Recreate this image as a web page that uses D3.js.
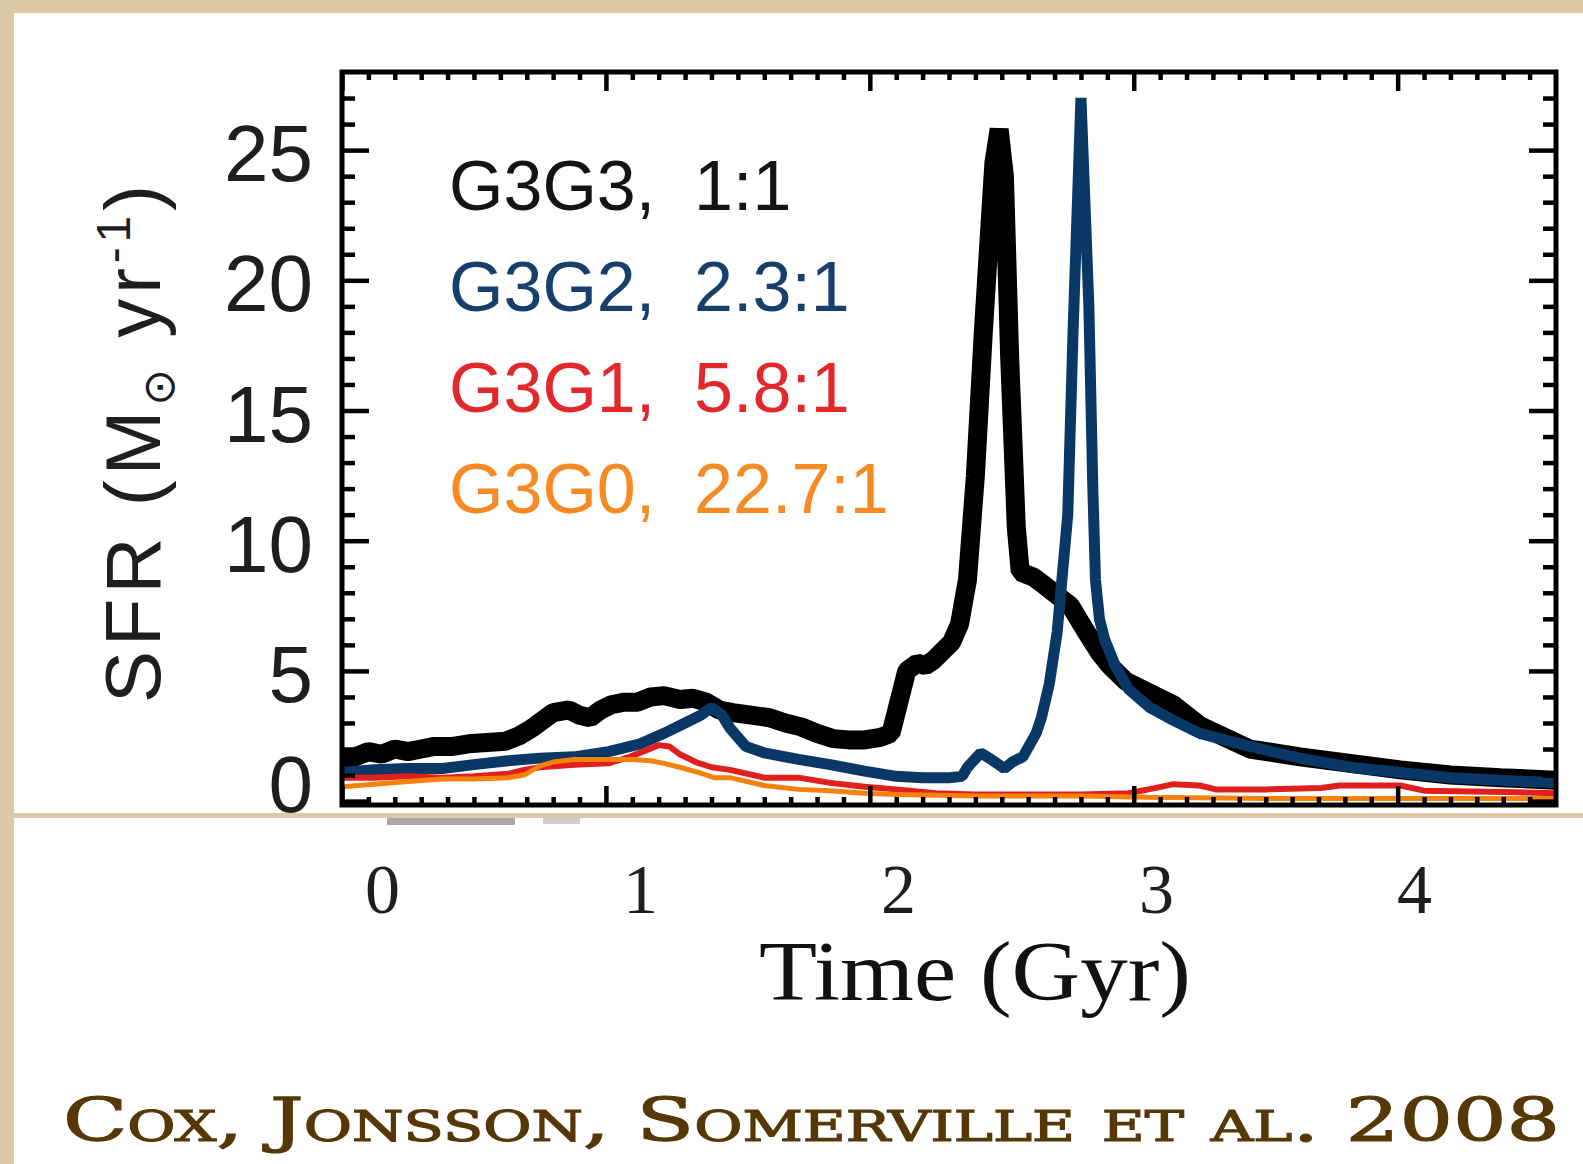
<!DOCTYPE html>
<html>
<head>
<meta charset="utf-8">
<script src="https://cdn.jsdelivr.net/npm/d3@7"></script>
<style>
  body { margin: 0; background: #dccaa6; }
  svg { display: block; }
</style>
</head>
<body>
<div id="my_dataviz"></div>
<script>
// SFR curves, [time in Gyr, SFR in Msun/yr]
var g3g3 = [[0.00,1.5],[0.05,1.7],[0.10,1.9],[0.15,1.8],[0.20,2.0],[0.25,1.9],[0.30,2.0],[0.35,2.1],
  [0.42,2.1],[0.48,2.2],[0.55,2.25],[0.62,2.3],[0.67,2.5],[0.72,2.8],[0.76,3.1],[0.80,3.4],[0.86,3.5],
  [0.90,3.3],[0.94,3.2],[0.98,3.5],[1.02,3.7],[1.07,3.8],[1.12,3.8],[1.17,4.0],[1.22,4.05],[1.28,3.9],
  [1.33,3.95],[1.38,3.8],[1.43,3.5],[1.48,3.4],[1.55,3.3],[1.62,3.2],[1.68,3.0],[1.74,2.85],[1.80,2.6],
  [1.86,2.4],[1.92,2.35],[1.98,2.35],[2.04,2.45],[2.08,2.6],[2.11,3.8],[2.14,5.0],[2.18,5.3],[2.21,5.2],
  [2.24,5.4],[2.28,5.8],[2.31,6.1],[2.34,6.8],[2.37,8.5],[2.40,12.5],[2.43,18],[2.47,24.5],[2.49,25.8],
  [2.51,24],[2.53,17],[2.555,10.5],[2.57,8.8],[2.62,8.6],[2.66,8.3],[2.71,7.9],[2.76,7.5],[2.82,6.5],
  [2.87,5.7],[2.91,5.2],[2.97,4.6],[3.05,4.2],[3.15,3.7],[3.25,2.9],[3.44,2.0],[3.63,1.7],[3.82,1.45],
  [4.01,1.2],[4.20,1.0],[4.39,0.9],[4.60,0.8]];

var g3g2 = [[0.00,1.1],[0.12,1.2],[0.25,1.25],[0.38,1.25],[0.50,1.4],[0.63,1.55],[0.75,1.65],[0.88,1.7],
  [1.01,1.9],[1.13,2.2],[1.22,2.6],[1.30,3.0],[1.36,3.3],[1.40,3.6],[1.44,3.3],[1.47,2.8],[1.53,2.1],
  [1.60,1.85],[1.73,1.6],[1.85,1.4],[1.98,1.15],[2.10,0.95],[2.20,0.9],[2.30,0.9],[2.35,0.95],[2.37,1.3],
  [2.42,1.85],[2.46,1.6],[2.51,1.25],[2.54,1.5],[2.58,1.7],[2.63,2.6],[2.65,3.2],[2.68,4.5],[2.71,6.5],
  [2.75,11],[2.77,18],[2.80,27.0],[2.83,19],[2.845,12],[2.855,8.5],[2.87,7.0],[2.89,6.2],[2.93,5.2],
  [2.98,4.3],[3.06,3.6],[3.15,3.1],[3.25,2.6],[3.44,2.1],[3.63,1.65],[3.82,1.3],[4.01,1.1],[4.20,0.9],
  [4.39,0.8],[4.60,0.7]];

var g3g1 = [[0.00,0.9],[0.12,0.9],[0.25,0.95],[0.38,0.9],[0.50,0.95],[0.63,1.05],[0.69,1.2],[0.75,1.3],
  [0.88,1.4],[1.01,1.45],[1.09,1.7],[1.14,1.9],[1.20,2.15],[1.24,2.1],[1.28,1.8],[1.34,1.5],[1.40,1.3],
  [1.47,1.2],[1.60,0.9],[1.73,0.9],[1.85,0.7],[1.98,0.55],[2.10,0.45],[2.25,0.3],[2.40,0.25],[2.60,0.25],
  [2.80,0.25],[2.98,0.3],[3.08,0.5],[3.15,0.65],[3.25,0.6],[3.31,0.45],[3.50,0.45],[3.71,0.5],[3.78,0.6],
  [4.01,0.6],[4.10,0.4],[4.40,0.35],[4.60,0.3]];

var g3g0 = [[0.00,0.55],[0.12,0.65],[0.25,0.75],[0.38,0.85],[0.50,0.85],[0.63,0.9],[0.69,1.0],[0.75,1.35],
  [0.80,1.5],[0.88,1.6],[1.01,1.6],[1.10,1.6],[1.17,1.55],[1.22,1.45],[1.28,1.3],[1.35,1.1],[1.41,0.9],
  [1.47,0.9],[1.60,0.6],[1.73,0.45],[1.85,0.4],[1.98,0.3],[2.10,0.25],[2.40,0.2],[2.80,0.2],[3.05,0.15],
  [3.50,0.1],[4.00,0.1],[4.60,0.1]];

var seriesNames = ["G3G3,  1:1", "G3G2,  2.3:1", "G3G1,  5.8:1", "G3G0,  22.7:1"];
var lineColors = ["#000000", "#0a3866", "#e0201c", "#f5820c"];
var textColors = ["#141414", "#163f6c", "#e2282a", "#f68a24"];
var lineWidths = [19, 11, 6, 5];

var xMajor = [0, 1, 2, 3, 4];
var yMajor = [0, 5, 10, 15, 20, 25];
var xLabels = ["0", "1", "2", "3", "4"];
var yLabels = ["0", "5", "10", "15", "20", "25"];

// set the dimensions of the page and plot box
var W = 1583, H = 1164;
var margin = {top: 72, left: 342},
    width = 1556 - margin.left,
    height = 805 - margin.top;

var svg = d3.select("#my_dataviz")
  .append("svg")
    .attr("width", W)
    .attr("height", H);

// slide background: white panels on the beige paper
svg.append("rect").attr("x", 14).attr("y", 13).attr("width", W - 14).attr("height", 800).attr("fill", "#fff");
svg.append("rect").attr("x", 14).attr("y", 818).attr("width", W - 14).attr("height", H - 818).attr("fill", "#fff");
svg.append("rect").attr("x", 387).attr("y", 818).attr("width", 128).attr("height", 7).attr("fill", "#a8a8a8");
svg.append("rect").attr("x", 543).attr("y", 818).attr("width", 37).attr("height", 6).attr("fill", "#cfcfcf");

var g = svg.append("g")
  .attr("transform", "translate(" + margin.left + "," + margin.top + ")");

var x = d3.scaleLinear().domain([0, 4.6]).range([0, width]);
var y = d3.scaleLinear().domain([-0.15, 28]).range([height, 0]);

g.append("clipPath").attr("id", "clip")
  .append("rect").attr("width", width).attr("height", height);

// curves
var line = d3.line()
  .x(function(d) { return x(d[0]); })
  .y(function(d) { return y(d[1]); });

[g3g3, g3g2, g3g1, g3g0].forEach(function(s, i) {
  g.append("path")
    .datum(s)
    .attr("clip-path", "url(#clip)")
    .attr("fill", "none")
    .attr("stroke", lineColors[i])
    .attr("stroke-width", lineWidths[i])
    .attr("stroke-linejoin", "bevel")
    .attr("d", line);
});

// axes: ticks on all four sides, pointing inward
var xMinor = d3.range(0, 46).map(function(i) { return i / 10; }).filter(function(v) { return Math.abs(v - Math.round(v)) > 0.01; });
var yMinor = d3.range(0, 28).filter(function(v) { return v % 5 !== 0; });

function addAxis(gen, vals, size, tx, ty) {
  var a = g.append("g")
    .attr("transform", "translate(" + tx + "," + ty + ")")
    .call(gen.tickValues(vals).tickSize(-size).tickSizeOuter(0).tickFormat(""));
  a.select(".domain").remove();
  a.selectAll("line").attr("stroke", "#000").attr("stroke-width", 4.5);
}
addAxis(d3.axisBottom(x), xMajor, 19, 0, height);
addAxis(d3.axisBottom(x), xMinor, 8, 0, height);
addAxis(d3.axisTop(x), xMajor, 19, 0, 0);
addAxis(d3.axisTop(x), xMinor, 8, 0, 0);
addAxis(d3.axisLeft(y), yMajor, 27, 0, 0);
addAxis(d3.axisLeft(y), yMinor, 13, 0, 0);
addAxis(d3.axisRight(y), yMajor, 27, width, 0);
addAxis(d3.axisRight(y), yMinor, 13, width, 0);

g.append("rect")
  .attr("width", width).attr("height", height)
  .attr("fill", "none").attr("stroke", "#000").attr("stroke-width", 5);

// y tick labels
g.selectAll(".ylab")
  .data(yMajor)
  .enter().append("text")
    .attr("class", "ylab")
    .attr("x", -29)
    .attr("y", function(d) { return y(d) + 31 - (d === 0 ? 20 : 0); })
    .attr("text-anchor", "end")
    .style("font-family", "'Liberation Sans', Arial, sans-serif")
    .style("font-size", "80px")
    .attr("fill", "#1e1e1e")
    .text(function(d, i) { return yLabels[i]; });

// x tick labels sit lower and a bit shifted on the slide
var xLab = d3.scaleLinear().domain([0, 4]).range([382 - margin.left, 1414 - margin.left]);
var xl = g.append("g")
  .attr("transform", "translate(0," + (913 - margin.top) + ")")
  .call(d3.axisBottom(xLab).tickValues(xMajor).tickSize(0).tickPadding(0).tickFormat(function(d, i) { return xLabels[i]; }));
xl.select(".domain").remove();
xl.selectAll("text")
  .attr("dy", 0)
  .attr("fill", "#1e1e1e")
  .style("font-family", "'Liberation Serif', 'Times New Roman', serif")
  .style("font-size", "70px");

// axis titles
svg.append("text")
  .attr("x", 759).attr("y", 1000)
  .attr("textLength", 432).attr("lengthAdjust", "spacingAndGlyphs")
  .style("font-family", "'Liberation Serif', 'Times New Roman', serif")
  .style("font-size", "84px")
  .attr("fill", "#111")
  .text("Time (Gyr)");

var yt = svg.append("text")
  .attr("transform", "translate(160,444) rotate(-90)")
  .attr("text-anchor", "middle")
  .attr("textLength", 518)
  .style("font-family", "'Liberation Sans', Arial, sans-serif")
  .style("font-size", "78px")
  .attr("fill", "#1e1e1e");
yt.append("tspan").text("SFR (M");
yt.append("tspan").attr("dy", 14).style("font-size", "44px").style("font-family", "'DejaVu Sans', sans-serif").text("\u2299");
yt.append("tspan").attr("dy", -14).text(" yr");
yt.append("tspan").attr("dy", -30).style("font-size", "48px").text("-1");
yt.append("tspan").attr("dy", 30).text(")");

// legend
g.selectAll(".leg")
  .data(seriesNames)
  .enter().append("text")
    .attr("class", "leg")
    .attr("x", 449 - margin.left)
    .attr("y", function(d, i) { return 210 - margin.top + i * 101; })
    .style("white-space", "pre")
    .style("font-family", "'Liberation Sans', Arial, sans-serif")
    .style("font-size", "70px")
    .attr("fill", function(d, i) { return textColors[i]; })
    .text(function(d) { return d; });

// credit line
svg.append("text")
  .attr("x", 63).attr("y", 1141)
  .attr("textLength", 1497).attr("lengthAdjust", "spacingAndGlyphs")
  .style("font-family", "'DejaVu Serif', serif")
  .style("font-variant", "small-caps")
  .style("font-size", "60px")
  .attr("fill", "#563807")
  .attr("stroke", "#563807")
  .attr("stroke-width", 1.2)
  .text("Cox, Jonsson, Somerville et al. 2008");
</script>
</body>
</html>
